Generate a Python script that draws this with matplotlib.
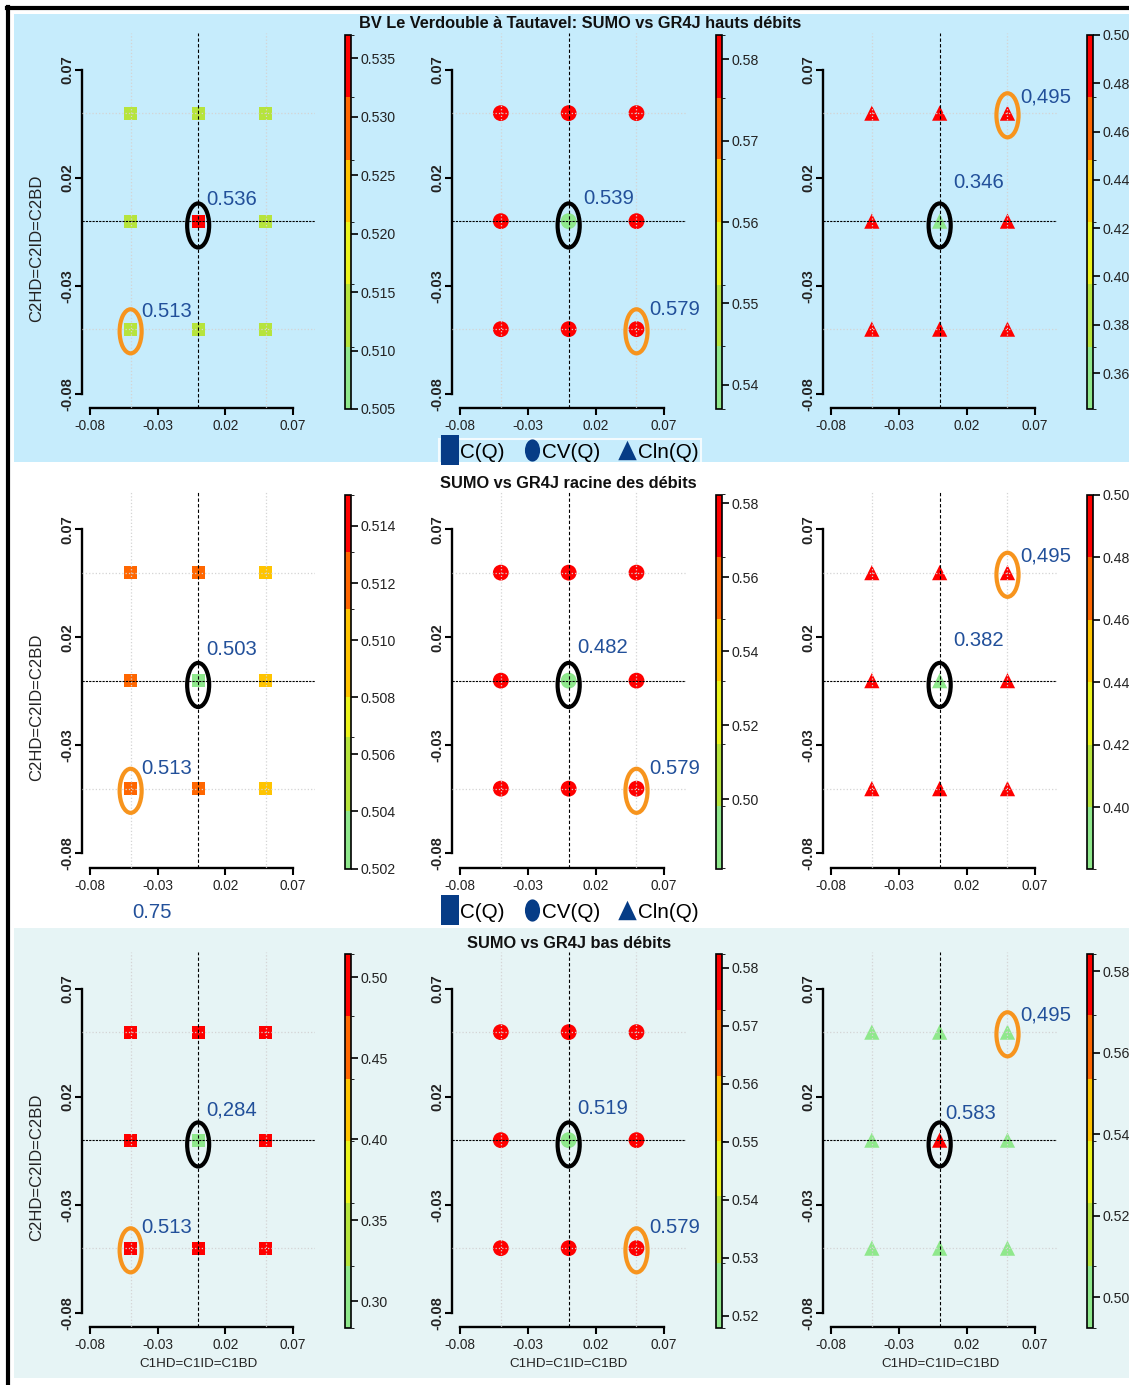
import matplotlib
matplotlib.use("Agg")
import matplotlib.pyplot as plt
import numpy as np
from matplotlib import font_manager
from matplotlib.colors import ListedColormap, BoundaryNorm
from matplotlib.patches import Ellipse, Rectangle
from matplotlib.lines import Line2D
from matplotlib.path import Path
from matplotlib.ticker import FormatStrFormatter
import matplotlib.cm as cm

# ---------------------------------------------------------------- data
x_levels = [-0.05, 0.0, 0.05]          # C1HD=C1ID=C1BD
y_levels = [0.05, 0.0, -0.05]          # C2HD=C2ID=C2BD
axis_ticks = [-0.08, -0.03, 0.02, 0.07]

row_titles = ["BV Le Verdouble à Tautavel: SUMO vs GR4J hauts débits",
              "SUMO vs GR4J racine des débits",
              "SUMO vs GR4J bas débits"]
criteria = ["C(Q)", "CV(Q)", "Cln(Q)"]

# values on the 3x3 grid, row-major (y = 0.05, 0, -0.05 ; x = -0.05, 0, 0.05)
hauts_C   = [0.513, 0.513, 0.513, 0.513, 0.536, 0.513, 0.513, 0.513, 0.513]
hauts_CV  = [0.579, 0.579, 0.579, 0.579, 0.539, 0.579, 0.579, 0.579, 0.579]
hauts_Cln = [0.495, 0.495, 0.495, 0.495, 0.346, 0.495, 0.495, 0.495, 0.495]
racine_C   = [0.512, 0.512, 0.510, 0.512, 0.503, 0.510, 0.513, 0.512, 0.510]
racine_CV  = [0.579, 0.579, 0.579, 0.579, 0.482, 0.579, 0.579, 0.579, 0.579]
racine_Cln = [0.495, 0.495, 0.495, 0.495, 0.382, 0.495, 0.495, 0.495, 0.495]
bas_C   = [0.513, 0.513, 0.513, 0.513, 0.284, 0.513, 0.513, 0.513, 0.513]
bas_CV  = [0.579, 0.579, 0.579, 0.579, 0.519, 0.579, 0.579, 0.579, 0.579]
bas_Cln = [0.495, 0.495, 0.495, 0.495, 0.583, 0.495, 0.495, 0.495, 0.495]

# colour-class breaks of each colour bar
breaks_hauts_C   = [0.505, 0.5103, 0.5157, 0.5210, 0.5263, 0.5317, 0.537]
breaks_hauts_CV  = [0.537, 0.5447, 0.5523, 0.5600, 0.5677, 0.5753, 0.583]
breaks_hauts_Cln = [0.3451, 0.3709, 0.3967, 0.4225, 0.4484, 0.4742, 0.500]
breaks_racine_C   = [0.502, 0.5040, 0.5066, 0.5080, 0.5111, 0.5131, 0.5151]
breaks_racine_CV  = [0.4813, 0.4982, 0.5150, 0.5319, 0.5487, 0.5656, 0.5824]
breaks_racine_Cln = [0.3804, 0.40, 0.42, 0.44, 0.46, 0.48, 0.50]
breaks_bas_C   = [0.2834, 0.3219, 0.3603, 0.3988, 0.4373, 0.4757, 0.5142]
breaks_bas_CV  = [0.5179, 0.5291, 0.5406, 0.5502, 0.5613, 0.5728, 0.5824]
breaks_bas_Cln = [0.4924, 0.5076, 0.5230, 0.5384, 0.5536, 0.5692, 0.5842]

# colour bar tick labels
cbticks_hauts_C   = [0.505, 0.510, 0.515, 0.520, 0.525, 0.530, 0.535]
cbticks_hauts_CV  = [0.54, 0.55, 0.56, 0.57, 0.58]
cbticks_hauts_Cln = [0.36, 0.38, 0.40, 0.42, 0.44, 0.46, 0.48, 0.50]
cbticks_racine_C   = [0.502, 0.504, 0.506, 0.508, 0.510, 0.512, 0.514]
cbticks_racine_CV  = [0.50, 0.52, 0.54, 0.56, 0.58]
cbticks_racine_Cln = [0.40, 0.42, 0.44, 0.46, 0.48, 0.50]
cbticks_bas_C   = [0.30, 0.35, 0.40, 0.45, 0.50]
cbticks_bas_CV  = [0.52, 0.53, 0.54, 0.55, 0.56, 0.57, 0.58]
cbticks_bas_Cln = [0.50, 0.52, 0.54, 0.56, 0.58]

# annotated values: reference point (0,0) and best point
center_labels = [["0.536", "0.539", "0.346"],
                 ["0.503", "0.482", "0.382"],
                 ["0,284", "0.519", "0.583"]]
best_x = [[-0.05, 0.05, 0.05], [-0.05, 0.05, 0.05], [-0.05, 0.05, 0.05]]
best_y = [[-0.05, -0.05, 0.05], [-0.05, -0.05, 0.05], [-0.05, -0.05, 0.05]]
best_labels = [["0.513", "0.579", "0,495"],
               ["0.513", "0.579", "0,495"],
               ["0.513", "0.579", "0,495"]]
extra_label = "0.75"

class_colors = ["#8FE88C", "#B6E43C", "#ECF41C", "#FFC400", "#FF6600", "#FF0000"]

# ---------------------------------------------------------------- fonts
avail = {f.name for f in font_manager.fontManager.ttflist}
def pick(*names):
    for n in names:
        if n in avail:
            return n
    return "DejaVu Sans"
NARROW = pick("Liberation Sans Narrow", "Arial Narrow", "Liberation Sans")
REG = pick("Liberation Sans", "Arial", "DejaVu Sans")
narrow_scale = 1.0 if "Narrow" in NARROW else 0.85

plt.rcParams["axes.unicode_minus"] = False
plt.rcParams["font.family"] = [NARROW, "DejaVu Sans"]

# ---------------------------------------------------------------- layout
W, H = 1129, 1385
fig = plt.figure(figsize=(W / 100, H / 100), dpi=100)
fig.patch.set_facecolor("white")

def rect(l, t, r, b):
    return [l / W, 1 - b / H, (r - l) / W, (b - t) / H]

# background bands and frame
fig.patches.append(Rectangle((14 / W, 1 - 462 / H), (W - 14) / W, 448 / H,
                             transform=fig.transFigure, fc="#C6ECFC", ec="none", zorder=-10))
fig.patches.append(Rectangle((14 / W, 1 - 1378 / H), (W - 14) / W, 450 / H,
                             transform=fig.transFigure, fc="#E6F4F5", ec="none", zorder=-10))
fig.add_artist(Line2D([8 / W, 8 / W], [0, 1 - 7 / H], transform=fig.transFigure,
                      color="black", lw=3, zorder=-5))
fig.add_artist(Line2D([7 / W, 1], [1 - 8 / H, 1 - 8 / H], transform=fig.transFigure,
                      color="black", lw=3, zorder=-5))

values = [[hauts_C, hauts_CV, hauts_Cln],
          [racine_C, racine_CV, racine_Cln],
          [bas_C, bas_CV, bas_Cln]]
breaks = [[breaks_hauts_C, breaks_hauts_CV, breaks_hauts_Cln],
          [breaks_racine_C, breaks_racine_CV, breaks_racine_Cln],
          [breaks_bas_C, breaks_bas_CV, breaks_bas_Cln]]
cbticks = [[cbticks_hauts_C, cbticks_hauts_CV, cbticks_hauts_Cln],
           [cbticks_racine_C, cbticks_racine_CV, cbticks_racine_Cln],
           [cbticks_bas_C, cbticks_bas_CV, cbticks_bas_Cln]]
cbfmt = [["%.3f", "%.2f", "%.2f"], ["%.3f", "%.2f", "%.2f"], ["%.2f", "%.2f", "%.2f"]]

# label offsets (data units) relative to the annotated point
center_off = [[(0.0062, 0.0098), (0.0106, 0.0107), (0.0098, 0.0181)],
              [(0.0062, 0.0144), (0.0061, 0.0153), (0.0098, 0.0185)],
              [(0.0062, 0.0139), (0.0061, 0.0148), (0.0039, 0.0125)]]
best_off = [[(0.0082, 0.0084), (0.0092, 0.0093), (0.0092, 0.0075)],
            [(0.0082, 0.0093), (0.0092, 0.0093), (0.0092, 0.0079)],
            [(0.0082, 0.0097), (0.0092, 0.0097), (0.0092, 0.0079)]]

markers = ["s", "o", "^"]
msizes = [85, 130, 120]
AX_LR = [(82, 315), (452, 686), (823, 1057)]
CB_LR = [(345, 351), (716, 722), (1087, 1093)]
ROW_DY = [0, 459.5, 919]
LABEL_BLUE = "#22509A"
LABEL_SIZE = 14.6
XG, YG = np.meshgrid(x_levels, y_levels)
cmap = ListedColormap(class_colors)

for r in range(3):
    dy = ROW_DY[r]
    for c in range(3):
        l, rr = AX_LR[c]
        ax = fig.add_axes(rect(l, 33 + dy, rr, 408 + dy))
        ax.set_facecolor("none")
        ax.set_xlim(-0.086, 0.0865)
        ax.set_ylim(-0.0865, 0.0871)
        for s in ("top", "right"):
            ax.spines[s].set_visible(False)
        for s in ("left", "bottom"):
            ax.spines[s].set_bounds(axis_ticks[0], axis_ticks[-1])
            ax.spines[s].set_linewidth(1.7)
        ax.set_xticks(axis_ticks)
        ax.set_yticks(axis_ticks)
        ax.xaxis.set_major_formatter(FormatStrFormatter("%.2f"))
        ax.yaxis.set_major_formatter(FormatStrFormatter("%.2f"))
        ax.tick_params(direction="out", length=5, width=1.5, colors="black",
                       labelcolor="#222222")
        ax.tick_params(axis="x", labelsize=11.5 * narrow_scale, pad=3)
        ax.tick_params(axis="y", labelsize=10.5, pad=0.5)
        for t in ax.get_yticklabels():
            t.set_rotation(90)
            t.set_va("center")
            t.set_fontweight("bold")
            t.set_family(REG)

        # grid at the tested parameter values
        for xv in x_levels:
            if xv != 0:
                ax.axvline(xv, color="#D4D4D4", ls=":", lw=0.9, zorder=3)
        for yv in y_levels:
            if yv != 0:
                ax.axhline(yv, color="#D4D4D4", ls=":", lw=0.9, zorder=3)
        ax.axvline(0, color="black", ls=(0, (3, 2)), lw=0.8, zorder=3)
        ax.axhline(0, color="black", ls=(0, (2, 1)), lw=0.8, zorder=3)

        norm = BoundaryNorm(breaks[r][c], cmap.N)
        ax.scatter(XG.ravel(), YG.ravel(), c=values[r][c], cmap=cmap, norm=norm,
                   marker=markers[c], s=msizes[c], linewidths=0, zorder=2)

        # circles around reference point and best point
        ax.add_patch(Ellipse((0, -0.002), 0.0163, 0.0204, fill=False,
                             ec="black", lw=3, zorder=4))
        bx, by = best_x[r][c], best_y[r][c]
        ax.add_patch(Ellipse((bx, by - 0.001), 0.0163, 0.0204, fill=False,
                             ec="#F7941D", lw=3, zorder=4))
        ox, oy = center_off[r][c]
        ax.text(ox, oy, center_labels[r][c], color=LABEL_BLUE,
                fontsize=LABEL_SIZE, ha="left", va="center", zorder=5)
        ox, oy = best_off[r][c]
        ax.text(bx + ox, by + oy, best_labels[r][c], color=LABEL_BLUE,
                fontsize=LABEL_SIZE, ha="left", va="center", zorder=5)

        if c == 0:
            ax.set_ylabel("C2HD=C2ID=C2BD", fontsize=12, family=REG, color="#222222")
            ax.yaxis.set_label_coords(-0.163, 0.427)
        if r == 2:
            ax.set_xlabel("C1HD=C1ID=C1BD", fontsize=9.6, color="#222222")
            ax.xaxis.set_label_coords(0.5, -0.083)

        # colour bar
        cl, cr = CB_LR[c]
        cax = fig.add_axes(rect(cl, 35 + dy, cr, 409 + dy))
        sm = cm.ScalarMappable(norm=norm, cmap=cmap)
        cb = fig.colorbar(sm, cax=cax, spacing="proportional", ticks=cbticks[r][c])
        cb.ax.yaxis.set_major_formatter(FormatStrFormatter(cbfmt[r][c]))
        cb.outline.set_linewidth(1.2)
        cb.ax.tick_params(length=5, width=1.2, labelsize=10.2,
                          labelcolor="#222222", pad=2)

# titles
title_pos = [(580, 23), (568, 483), (569, 943)]
for t, (px, py) in zip(row_titles, title_pos):
    fig.text(px / W, 1 - py / H, t, ha="center", va="center",
             fontsize=11.8, fontweight="bold", color="#111111")

# legends
LEG_BLUE = "#063C86"
sq = Path([(-0.6, -1), (0.6, -1), (0.6, 1), (-0.6, 1), (-0.6, -1)],
          [Path.MOVETO, Path.LINETO, Path.LINETO, Path.LINETO, Path.CLOSEPOLY])
circ = Path.unit_circle()
ell = Path(circ.vertices * np.array([0.68, 1.0]), circ.codes)
tri = Path([(-0.95, -1), (0.95, -1), (0, 1), (-0.95, -1)],
           [Path.MOVETO, Path.LINETO, Path.LINETO, Path.CLOSEPOLY])
handles = [Line2D([], [], ls="none", marker=sq, markersize=21, color=LEG_BLUE, mew=0),
           Line2D([], [], ls="none", marker=ell, markersize=16, color=LEG_BLUE, mew=0),
           Line2D([], [], ls="none", marker=tri, markersize=14, color=LEG_BLUE, mew=0)]
for py, edge in ((452, "white"), (912, "none")):
    leg = fig.legend(handles, criteria, loc="center", bbox_to_anchor=(570 / W, 1 - py / H),
                     ncol=3, frameon=True, fontsize=17.5 * narrow_scale,
                     handlelength=0.8, handletextpad=0.1, columnspacing=0.9,
                     borderpad=0.15, borderaxespad=0, fancybox=False)
    leg.get_frame().set_edgecolor(edge)
    leg.get_frame().set_facecolor("none")
    leg.get_frame().set_linewidth(1.5)

fig.text(132 / W, 1 - 913 / H, extra_label, color=LABEL_BLUE,
         fontsize=LABEL_SIZE, ha="left", va="center")

fig.savefig("out.png", dpi=100)
